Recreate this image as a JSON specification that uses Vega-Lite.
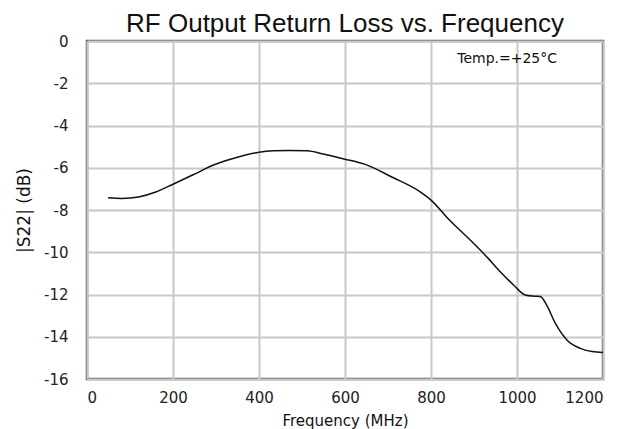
{
  "$schema": "https://vega.github.io/schema/vega-lite/v6.json",
  "autosize": "none",
  "width": 516,
  "height": 338,
  "padding": {"left": 87, "top": 41, "right": 21, "bottom": 50},
  "background": "white",
  "config": {
    "view": {"stroke": "#5a5a5a", "strokeWidth": 2.5},
    "font": "DejaVu Sans"
  },
  "title": {
    "text": "RF Output Return Loss vs. Frequency",
    "fontSize": 26,
    "fontWeight": "normal",
    "font": "Liberation Sans",
    "color": "#111111",
    "anchor": "middle",
    "offset": -3
  },
  "layer": [
    {
      "data": {"values": [
        {"f": 49, "db": -7.42}, {"f": 81, "db": -7.45}, {"f": 120, "db": -7.38},
        {"f": 160, "db": -7.15}, {"f": 200, "db": -6.78}, {"f": 250, "db": -6.3},
        {"f": 294, "db": -5.87}, {"f": 350, "db": -5.5}, {"f": 400, "db": -5.27},
        {"f": 433, "db": -5.2}, {"f": 470, "db": -5.18}, {"f": 512, "db": -5.2},
        {"f": 550, "db": -5.35}, {"f": 595, "db": -5.57}, {"f": 647, "db": -5.84},
        {"f": 710, "db": -6.45}, {"f": 774, "db": -7.13}, {"f": 800, "db": -7.53},
        {"f": 844, "db": -8.5}, {"f": 890, "db": -9.4}, {"f": 933, "db": -10.29},
        {"f": 961, "db": -10.92}, {"f": 992, "db": -11.55}, {"f": 1019, "db": -12.02},
        {"f": 1040, "db": -12.08}, {"f": 1054, "db": -12.1}, {"f": 1069, "db": -12.5},
        {"f": 1089, "db": -13.36}, {"f": 1116, "db": -14.15}, {"f": 1147, "db": -14.55},
        {"f": 1175, "db": -14.7}, {"f": 1200, "db": -14.75}
      ]},
      "mark": {"type": "line", "color": "#111111", "strokeWidth": 1.5, "interpolate": "monotone"},
      "encoding": {
        "x": {
          "field": "f", "type": "quantitative",
          "scale": {"domain": [0, 1200], "nice": false},
          "axis": {
            "title": "Frequency (MHz)",
            "values": [0, 200, 400, 600, 800, 1000, 1200],
            "labelExpr": "'' + datum.value",
            "domain": false, "ticks": false,
            "grid": true, "gridColor": "#c8c8c8", "gridWidth": 2,
            "labelFontSize": 15, "labelColor": "#222222", "labelPadding": 11,
            "labelFont": "DejaVu Sans",
            "titleFontSize": 15, "titleFontWeight": "normal", "titleColor": "#111111",
            "titlePadding": 8, "titleFont": "DejaVu Sans"
          }
        },
        "y": {
          "field": "db", "type": "quantitative",
          "scale": {"domain": [-16, 0], "nice": false},
          "axis": {
            "title": "|S22| (dB)",
            "values": [0, -2, -4, -6, -8, -10, -12, -14, -16],
            "labelExpr": "'' + datum.value",
            "domain": false, "ticks": false,
            "grid": true, "gridColor": "#c8c8c8", "gridWidth": 2,
            "labelFontSize": 15, "labelColor": "#222222", "labelPadding": 19,
            "labelFont": "DejaVu Sans",
            "titleFontSize": 17, "titleFontWeight": "normal", "titleColor": "#111111",
            "titlePadding": 10, "titleFont": "DejaVu Sans"
          }
        }
      }
    },
    {
      "data": {"values": [{"f": 977, "db": -0.85, "label": "Temp.=+25°C"}]},
      "mark": {"type": "text", "fontSize": 14, "font": "DejaVu Sans", "color": "#111111", "align": "center", "baseline": "middle"},
      "encoding": {
        "x": {"field": "f", "type": "quantitative"},
        "y": {"field": "db", "type": "quantitative"},
        "text": {"field": "label"}
      }
    }
  ]
}
